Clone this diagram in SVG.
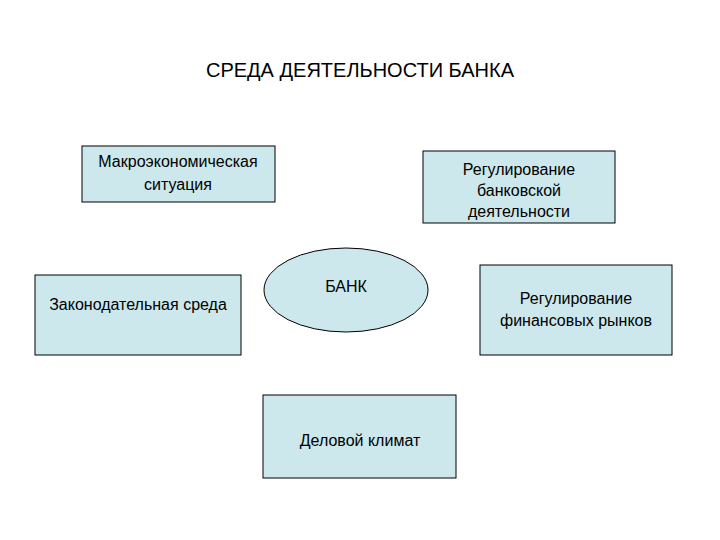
<svg xmlns="http://www.w3.org/2000/svg" width="720" height="540" viewBox="0 0 720 540">
<style>
.n{fill:#cce8ec;stroke:#000;stroke-width:1}
text{font-family:"Liberation Sans",Arial,sans-serif;font-size:16px;text-anchor:middle;fill:#000}
.t{font-size:20px}
</style>
<rect width="720" height="540" fill="#fff"/>
<text class="t" x="360" y="77">СРЕДА ДЕЯТЕЛЬНОСТИ БАНКА</text>
<g id="connectors"></g>
<g id="macro"><rect class="n" x="82" y="146" width="193" height="56"/><text x="178" y="167">Макроэкономическая</text><text x="178" y="190">ситуация</text></g>
<g id="regbank"><rect class="n" x="423" y="151" width="192" height="72"/><text x="519" y="175">Регулирование</text><text x="519" y="196">банковской</text><text x="519" y="217">деятельности</text></g>
<g id="zakon"><rect class="n" x="35" y="275" width="206" height="80"/><text x="138" y="310">Законодательная среда</text></g>
<g id="bank"><ellipse class="n" cx="346" cy="290" rx="82" ry="42"/><text x="346" y="292">БАНК</text></g>
<g id="regfin"><rect class="n" x="480" y="265" width="192" height="90"/><text x="576" y="304">Регулирование</text><text x="576" y="326">финансовых рынков</text></g>
<g id="klimat"><rect class="n" x="263" y="395" width="193" height="83"/><text x="360" y="446">Деловой климат</text></g>
</svg>
